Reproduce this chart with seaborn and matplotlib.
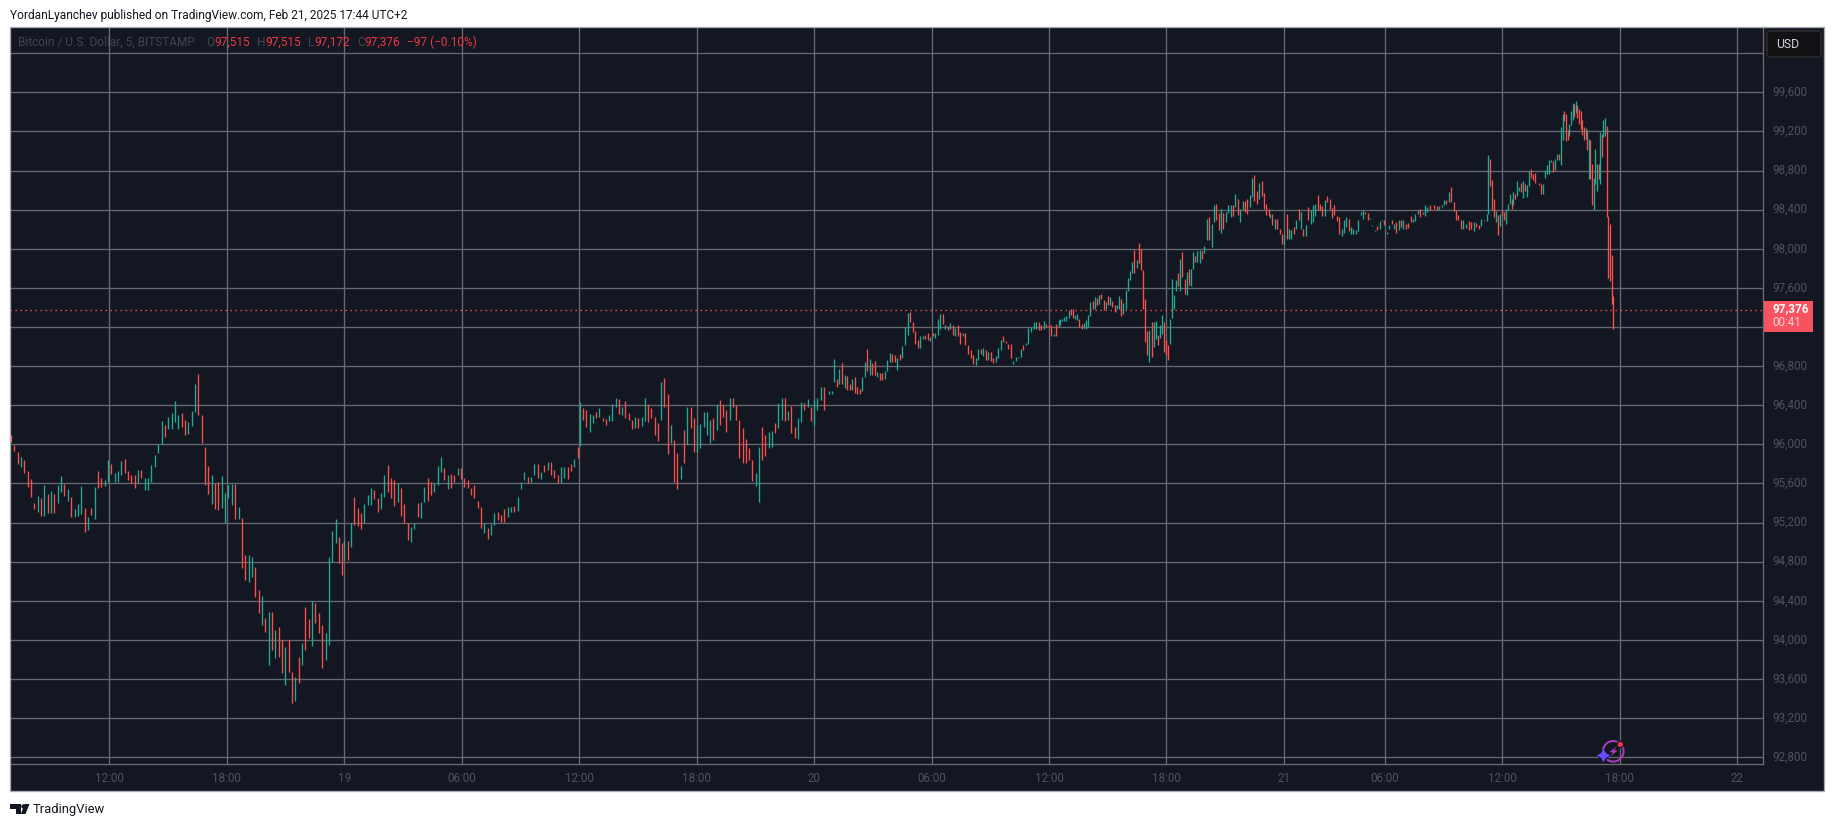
import numpy as np
import pandas as pd
import matplotlib
matplotlib.use("Agg")
import matplotlib.pyplot as plt
from matplotlib.patches import Rectangle, FancyBboxPatch, Circle, Arc, Polygon
import seaborn as sns

# (high, low, direction), one stretch of the chart per list
bars_a = [(96096,96028,'d'),(95994,95936,'d'),(95926,95796,'d'),(95875,95766,'u'),(95841,95711,'d'),(95728,95568,'d'),
 (95643,95466,'d'),(95404,95340,'d'),(95472,95312,'u'),(95455,95268,'d'),(95582,95271,'u'),(95490,95302,'d'),
 (95527,95302,'u'),(95490,95302,'d'),(95585,95397,'u'),(95677,95517,'u'),(95595,95472,'d'),(95544,95421,'u'),
 (95466,95261,'d'),(95340,95261,'u'),(95391,95268,'u'),(95575,95288,'u'),(95353,95108,'d'),(95254,95125,'u'),
 (95346,95278,'d'),(95568,95241,'u'),(95728,95551,'d'),(95653,95561,'d'),(95636,95575,'u'),(95841,95619,'u'),
 (95800,95698,'d'),(95711,95619,'u'),(95728,95619,'u'),(95830,95687,'u'),(95851,95704,'d'),(95728,95636,'d'),
 (95687,95609,'d'),(95687,95551,'d'),(95738,95609,'u'),(95738,95653,'d'),(95653,95534,'u'),(95653,95534,'u'),
 (95786,95616,'u'),(95892,95773,'u'),(96000,95909,'u'),(96240,96000,'u'),(96199,96073,'d'),(96284,96158,'u'),
 (96325,96158,'u'),(96444,96233,'u'),(96301,96158,'u'),(96318,96182,'d'),(96250,96097,'d'),(96233,96107,'u'),
 (96342,96192,'u'),(96618,96335,'u'),(96720,96301,'d'),(96301,96011,'d'),(95977,95585,'d'),(95779,95490,'d'),
 (95687,95391,'u'),(95602,95340,'d'),(95616,95329,'d'),(95677,95346,'u'),(95500,95193,'u'),(95585,95449,'u'),
 (95595,95380,'u'),(95595,95234,'d'),(95363,95234,'u'),(95244,94733,'d'),(94869,94613,'d'),(94869,94596,'u'),
 (94845,94647,'u'),(94750,94443,'d'),(94511,94272,'d'),(94449,94153,'u'),(94221,94085,'d'),(94289,93744,'u'),
 (94289,93897,'d'),(94102,93812,'u'),(94136,93829,'d'),(93999,93658,'d'),(93931,93539,'u'),(93999,93676,'d'),
 (93676,93351,'d'),(93624,93379,'u'),(93822,93556,'d'),(93965,93743,'u'),(94334,93897,'d'),(94211,94016,'d'),
 (94402,93938,'u'),(94374,94170,'d'),(94272,94067,'d'),(94153,93710,'d'),(94068,93795,'u'),(94852,93948,'u'),
 (95118,94801,'u'),(95237,94988,'u'),(95056,94784,'d'),(94988,94664,'d')]

bars_b = [(95021,94817,'u'),(95011,94817,'d'),(95192,94953,'u'),(95465,95175,'d'),(95345,95165,'d'),(95294,95134,'d'),
 (95390,95192,'u'),(95482,95379,'u'),(95550,95379,'u'),(95533,95441,'d'),(95448,95311,'d'),(95499,95335,'u'),
 (95686,95465,'u'),(95789,95516,'d'),(95652,95448,'d'),(95635,95369,'d'),(95601,95413,'u'),(95550,95267,'d'),
 (95390,95199,'d'),(95192,95021,'d'),(95158,95004,'u'),(95192,95130,'u'),(95396,95253,'d'),(95413,95250,'u'),
 (95567,95413,'u'),(95652,95424,'d'),(95618,95482,'d'),(95601,95509,'u'),(95778,95584,'u'),(95874,95720,'u'),
 (95754,95635,'d'),(95686,95540,'u'),(95697,95550,'d'),(95686,95618,'d'),(95754,95686,'u'),(95761,95645,'d'),
 (95652,95567,'d'),(95635,95550,'d'),(95550,95482,'d'),(95584,95448,'d'),(95420,95345,'d'),(95362,95141,'d'),
 (95192,95090,'u'),(95141,95032,'d'),(95182,95072,'u'),(95294,95175,'u'),(95311,95226,'d'),(95277,95209,'d'),
 (95335,95209,'d'),(95355,95253,'u'),(95355,95311,'u'),(95369,95311,'d'),(95458,95318,'u'),(95618,95540,'u'),
 (95720,95635,'u'),(95669,95608,'d'),(95669,95618,'u'),(95799,95686,'u'),(95799,95652,'d'),(95720,95645,'u'),
 (95789,95720,'d'),(95823,95737,'u'),(95823,95686,'d'),(95737,95652,'d'),(95686,95608,'d'),(95771,95601,'u'),
 (95764,95652,'u'),(95771,95645,'d'),(95799,95730,'d'),(95847,95771,'u'),(95976,95857,'d')]

bars_c = [(96430,95980,'u'),(96376,96250,'d'),(96352,96182,'d'),(96308,96130,'u'),(96301,96216,'u'),(96335,96267,'d'),
 (96376,96284,'u'),(96267,96240,'d'),(96257,96199,'d'),(96301,96240,'u'),(96410,96240,'u'),(96472,96386,'u'),
 (96465,96308,'d'),(96386,96301,'u'),(96444,96274,'d'),(96318,96250,'d'),(96250,96158,'d'),(96284,96165,'u'),
 (96267,96165,'d'),(96284,96192,'u'),(96472,96240,'u'),(96414,96233,'d'),(96369,96267,'d'),(96284,96096,'d'),
 (96216,96035,'d'),(96642,96250,'u'),(96676,96386,'d'),(96516,95899,'d'),(96199,96011,'u'),(96045,95619,'d'),
 (95909,95544,'d'),(95779,95646,'u'),(96148,95807,'d'),(96386,96001,'u'),(96386,96172,'d'),(96274,95919,'d'),
 (96199,95919,'u'),(96206,95960,'u'),(96335,96182,'u'),(96335,96096,'u'),(96250,96011,'u'),(96267,96045,'d'),
 (96410,96148,'u'),(96455,96199,'d'),(96403,96284,'d'),(96352,96131,'d'),(96472,96250,'u'),(96472,96386,'d'),
 (96403,96250,'d'),(96250,95865,'d'),(96165,95807,'d'),(96056,95807,'d'),(95960,95841,'d'),(95841,95626,'d'),
 (95704,95578,'u'),(95977,95415,'u'),(96182,95841,'d'),(96096,95885,'d'),(96131,95967,'u'),(96141,95977,'u'),
 (96216,96114,'d'),(96420,96165,'u'),(96472,96250,'u'),(96472,96240,'d'),(96342,96250,'u'),(96397,96114,'d'),
 (96182,96062,'d'),(96267,96056,'u'),(96438,96233,'u'),(96420,96352,'d'),(96461,96386,'u'),(96386,96240,'d'),
 (96455,96199,'u'),(96472,96352,'u'),(96591,96455,'u'),(96591,96352,'d')]

bars_d = [(96550,96510,'u'),(96550,96510,'u'),(96872,96637,'u'),(96667,96590,'d'),(96771,96617,'u'),(96835,96617,'d'),
 (96711,96577,'u'),(96694,96560,'d'),(96617,96560,'d'),(96667,96560,'u'),(96687,96527,'d'),(96584,96510,'d'),
 (96570,96510,'d'),(96687,96543,'u'),(96838,96684,'u'),(96972,96751,'d'),(96868,96711,'u'),(96828,96711,'d'),
 (96852,96711,'d'),(96744,96684,'u'),(96728,96660,'d'),(96728,96660,'d'),(96751,96671,'u'),(96862,96751,'u'),
 (96935,96845,'u'),(96921,96845,'d'),(96912,96845,'d'),(96885,96761,'u'),(96929,96862,'d'),(97006,96878,'u'),
 (97197,97012,'u'),(97347,97120,'u'),(97354,97247,'d'),(97247,97153,'d'),(97163,97029,'d'),(97063,96986,'d'),
 (97113,96986,'u'),(97113,97079,'u'),(97123,97079,'d'),(97140,97063,'d'),(97096,97053,'u'),(97136,97113,'d'),
 (97136,97086,'u'),(97280,97120,'u'),(97331,97180,'u'),(97337,97230,'d'),(97220,97180,'u'),(97207,97173,'d'),
 (97240,97180,'u'),(97223,97120,'d'),(97190,97113,'u'),(97220,97113,'d'),(97153,97022,'d'),(97140,97113,'u'),
 (97140,97019,'d'),(97019,96919,'d'),(96962,96878,'d'),(96912,96818,'d'),(96885,96811,'u'),(96972,96862,'u'),
 (96972,96919,'d'),(96986,96902,'u'),(96962,96862,'d'),(96945,96862,'u'),(96945,96852,'d'),(96885,96828,'d'),
 (96905,96845,'u'),(96986,96888,'u'),(97063,96969,'u'),(97103,97046,'d'),(97053,97039,'d'),(97029,96979,'d'),
 (97029,96885,'d'),(96852,96821,'u'),(96895,96852,'u'),(96895,96878,'u'),(96979,96895,'u'),(97012,96962,'d'),
 (97039,97019,'u'),(97190,97029,'u'),(97197,97146,'u'),(97247,97180,'u'),(97247,97180,'u'),(97247,97173,'d'),
 (97220,97170,'d'),(97264,97180,'u'),(97230,97197,'d'),(97220,97197,'d'),(97220,97106,'d'),(97130,97106,'u'),
 (97230,97113,'d'),(97274,97197,'u')]

bars_e1 = [(97279,97218,'u'),(97286,97259,'u'),(97303,97259,'u'),(97310,97259,'u'),(97371,97293,'u'),(97381,97320,'d'),
 (97381,97293,'d'),(97320,97286,'u'),(97330,97269,'u'),(97286,97201,'d'),(97235,97177,'d'),(97245,97190,'u'),
 (97269,97184,'u'),(97327,97201,'u'),(97456,97313,'u'),(97463,97388,'d'),(97507,97388,'u'),(97497,97422,'d'),
 (97524,97439,'u'),(97541,97484,'d'),(97480,97371,'d'),(97456,97381,'u'),(97514,97429,'d'),(97507,97429,'u'),
 (97463,97405,'d'),(97422,97354,'d'),(97429,97388,'u'),(97514,97381,'u'),(97490,97310,'d'),(97449,97337,'u'),
 (97576,97388,'u'),(97702,97566,'u'),(97770,97678,'u'),(97866,97757,'u'),(97985,97757,'d'),(97883,97804,'u'),
 (98057,97859,'d'),(98002,97780,'d')]

bars_e2 = [(97780,97381,'d'),(97490,97047,'d'),(97156,96911,'d'),(97167,96843,'u'),(97252,96894,'d'),(97252,96996,'u'),
 (97259,97074,'u'),(97115,97013,'d'),(97225,97088,'u'),(97320,97133,'u'),(97252,96945,'d'),(97064,96911,'d'),
 (97013,96860,'d'),(97279,97023,'u'),(97695,97293,'u'),(97524,97388,'u'),(97678,97566,'u'),(97757,97620,'d'),
 (97893,97566,'u'),(97968,97712,'d'),(97695,97541,'d'),(97763,97524,'u'),(97791,97627,'d'),(97791,97620,'u')]

bars_e3 = [(97968,97791,'u'),(97927,97866,'d'),(97975,97866,'u'),(97985,97859,'u'),(97975,97900,'d'),(98026,97961,'u'),
 (98309,98087,'u'),(98326,98087,'d'),(98258,98019,'u'),(98445,98275,'u'),(98455,98292,'d'),(98370,98190,'d'),
 (98411,98166,'u'),(98370,98207,'d'),(98377,98275,'u'),(98445,98370,'u'),(98452,98326,'u'),(98452,98336,'d'),
 (98565,98428,'u'),(98514,98350,'d'),(98411,98275,'u'),(98486,98394,'u'),(98486,98377,'d'),(98514,98353,'d'),
 (98548,98428,'u'),(98728,98531,'u'),(98759,98493,'d'),(98589,98456,'d'),(98677,98514,'u'),(98691,98541,'d'),
 (98575,98411,'d'),(98462,98350,'d'),(98411,98336,'d')]

bars_f = [(98359,98318,'u'),(98359,98240,'d'),(98308,98206,'u'),(98308,98206,'d'),(98199,98154,'d'),(98154,98045,'d'),
 (98154,98052,'u'),(98352,98103,'d'),(98206,98103,'u'),(98189,98103,'u'),(98223,98154,'d'),(98291,98206,'u'),
 (98410,98291,'d'),(98376,98206,'u'),(98206,98127,'d'),(98240,98127,'u'),(98427,98291,'d'),(98393,98250,'u'),
 (98444,98274,'u'),(98461,98332,'u'),(98547,98400,'d'),(98461,98393,'d'),(98434,98332,'d'),(98502,98332,'u'),
 (98536,98478,'d'),(98512,98410,'d'),(98420,98318,'d'),(98444,98342,'d'),(98332,98284,'d'),(98325,98154,'d'),
 (98206,98127,'u'),(98291,98161,'u'),(98325,98223,'u'),(98308,98178,'d'),(98223,98148,'u'),(98206,98154,'u'),
 (98189,98154,'u'),(98291,98178,'u'),(98376,98342,'u'),(98393,98301,'u'),(98376,98359,'d'),(98366,98298,'d'),
 (98311,98301,'u'),(98240,98229,'u'),(98189,98178,'u'),(98229,98189,'d'),(98284,98206,'u'),(98291,98281,'u'),
 (98291,98240,'d'),(98168,98148,'u'),(98240,98206,'u'),(98298,98257,'d'),(98257,98206,'u'),(98274,98161,'d'),
 (98298,98189,'u'),(98298,98223,'d'),(98291,98206,'u'),(98257,98206,'d'),(98264,98212,'d'),(98332,98274,'d'),
 (98308,98274,'u'),(98352,98281,'u'),(98393,98352,'u'),(98410,98325,'d'),(98376,98359,'d'),(98444,98332,'u'),
 (98427,98376,'u'),(98444,98400,'d'),(98400,98393,'u'),(98444,98410,'d'),(98434,98400,'d'),(98434,98400,'u'),
 (98444,98427,'u'),(98495,98444,'u'),(98495,98454,'d'),(98581,98478,'u'),(98632,98478,'d'),(98478,98386,'d')]

bars_g = [(98393,98291,'d'),(98342,98291,'d'),(98291,98199,'d'),(98291,98206,'u'),(98257,98216,'u'),(98281,98189,'d'),
 (98274,98206,'d'),(98274,98178,'u'),(98264,98223,'d'),(98240,98199,'d'),(98308,98233,'u'),(98298,98281,'d'),
 (98359,98281,'u')]

bars_h = [(98956,98359,'u'),(98915,98639,'d'),(98700,98393,'d'),(98506,98325,'d'),(98386,98274,'u'),(98342,98137,'d'),
 (98359,98229,'u'),(98393,98342,'d'),(98376,98291,'d'),(98410,98257,'u'),(98455,98400,'u'),(98557,98455,'u'),
 (98513,98410,'d'),(98581,98444,'u'),(98564,98506,'d'),(98693,98536,'u'),(98632,98591,'u'),(98673,98581,'d'),
 (98690,98519,'u'),(98666,98588,'d'),(98649,98530,'u'),(98792,98639,'u'),(98819,98727,'d'),(98761,98700,'d'),
 (98778,98673,'d'),(98676,98669,'u'),(98676,98649,'d'),(98666,98564,'d'),(98659,98557,'u'),(98809,98724,'u'),
 (98853,98768,'u'),(98911,98768,'u'),(98911,98888,'u'),(98894,98785,'d'),(98922,98809,'u'),(98973,98905,'u'),
 (98966,98905,'d')]

bars_i = [(99246,98854,'u'),(99375,99109,'u'),(99406,99304,'d'),(99375,99102,'d'),(99212,99116,'d'),(99280,99150,'u'),
 (99410,99263,'u'),(99495,99314,'u'),(99484,99348,'d'),(99508,99389,'u'),(99467,99338,'d'),(99433,99280,'d'),
 (99406,99229,'d'),(99314,99160,'d'),(99246,99109,'d'),(99239,99126,'u'),(99212,99007,'d'),(99126,98717,'u'),
 (99109,98717,'d'),(98871,98444,'d'),(98727,98400,'u'),(99024,98659,'u'),(98871,98591,'u'),(98871,98717,'d'),
 (99195,98659,'u'),(99177,98939,'d'),(99314,99143,'u'),(99341,99150,'u'),(99253,98325,'d'),(98332,97698,'d'),
 (98257,97670,'d'),(97933,97438,'d'),(97513,97179,'d')]

# first and last 5-minute slot of each stretch
stretches = [(bars_a, 0.7, 203.8), (bars_b, 205, 348.1), (bars_c, 349.5, 499), (bars_d, 502.4, 643),
             (bars_e1, 643.6, 693.4), (bars_e2, 694.8, 723.9), (bars_e3, 725, 771.7), (bars_f, 772.5, 885),
             (bars_g, 886.3, 905.3), (bars_h, 905.9, 949.8), (bars_i, 951, 982.9)]

price_ticks = list(range(92800, 100400, 400))
# 97,200 sits under the last price label and 100,000 under the USD button, neither shows a label
price_labels = ['' if p in (97200, 100000) else f'{p:,}' for p in price_ticks]
time_slots = [61, 133, 205, 277, 349, 421, 493, 565, 637, 709, 781, 843, 915, 987, 1059]
time_labels = ['12:00', '18:00', '19', '06:00', '12:00', '18:00', '20', '06:00', '12:00', '18:00', '21', '06:00', '12:00', '18:00', '22']
last_close = 97376

BG = '#131722'
GRID = '#666872'
UP = '#22ab94'
DOWN = '#fb4f4c'
DIM = '#50535e'
LEGEND_DIM = '#434651'

# long table: two rows per bar, so each bar is one vertical line
rows = []
bar_id = 0
for bars, first, last in stretches:
    for slot, (high, low, side) in zip(np.linspace(first, last, len(bars)), bars):
        rows.append((bar_id, slot, high, side))
        rows.append((bar_id, slot, low, side))
        bar_id += 1
df = pd.DataFrame(rows, columns=['bar', 'slot', 'price', 'side'])

sns.set_style('dark')
plt.rcParams['font.family'] = ['Roboto', 'DejaVu Sans']

W, H = 1835, 827
fig = plt.figure(figsize=(W / 100, H / 100), dpi=100, facecolor='white')


def px_axes(z):
    a = fig.add_axes([0, 0, 1, 1], zorder=z)
    a.set_xlim(0, W)
    a.set_ylim(H, 0)
    a.axis('off')
    return a


under = px_axes(0)
over = px_axes(5)
under.add_patch(Rectangle((10, 27), 1814, 764, fc=BG, ec='none'))

# main pane
L, R, T, B = 10, 1763, 27, 764
ax = fig.add_axes([L / W, 1 - B / H, (R - L) / W, (B - T) / H], zorder=2)
ax.patch.set_alpha(0)
ax.set_axisbelow(True)
ax.grid(True, color=GRID, lw=0.95)

sns.lineplot(data=df, x='slot', y='price', hue='side', units='bar', estimator=None, sort=False,
             palette={'u': UP, 'd': DOWN}, linewidth=0.95, solid_capstyle='butt', legend=False, ax=ax)
ax.axhline(last_close, color=DOWN, lw=1, ls=(0, (1, 2.6)))

ax.set_xlim(0.13, 1074.7)
ax.set_ylim(92731, 100268)
ax.set_xlabel('')
ax.set_ylabel('')
ax.yaxis.tick_right()
ax.set_yticks(price_ticks)
ax.set_yticklabels(price_labels, va='center')
ax.set_xticks(time_slots)
ax.set_xticklabels(time_labels)
ax.tick_params(axis='y', length=0, pad=6.5, labelsize=8.4, labelcolor=DIM)
ax.tick_params(axis='x', length=0, pad=6, labelsize=8.4, labelcolor=DIM)
for side in ['left', 'top']:
    ax.spines[side].set_visible(False)
for side in ['right', 'bottom']:
    ax.spines[side].set_color('#6a6c76')
    ax.spines[side].set_linewidth(0.95)

# outer frame
over.add_patch(Rectangle((10, 27), 1814, 764, fc='none', ec='#a9abb3', lw=0.95))

# header and legend strip
over.text(10, 15, 'YordanLyanchev published on TradingView.com, Feb 21, 2025 17:44 UTC+2', fontsize=8.55,
          color='#131722', va='center')
over.text(18, 42, 'Bitcoin / U.S. Dollar, 5, BITSTAMP', fontsize=8.6, color=LEGEND_DIM, va='center')
for x, s, c in [(206, 'O', LEGEND_DIM), (214, '97,515', '#f23645'), (257, 'H', LEGEND_DIM), (265, '97,515', '#f23645'),
                (308, 'L', LEGEND_DIM), (314, '97,172', '#f23645'), (357, 'C', LEGEND_DIM), (364, '97,376', '#f23645'),
                (407, '\u221297 (\u22120.10%)', '#f23645')]:
    over.text(x, 42, s, fontsize=8.6, color=c, va='center')

# USD button
over.add_patch(FancyBboxPatch((1769, 33), 50, 22, boxstyle='round,pad=2,rounding_size=4', fc='#111113', ec='#2e2e31', lw=1))
over.text(1776, 44.5, 'USD', fontsize=8.8, color='#d1d4dc', va='center')

# last price label
over.add_patch(Rectangle((1764, 301), 49, 31, fc='#f7525f', ec='none'))
over.text(1772, 309, f'{last_close:,}', fontsize=8.4, fontweight='bold', color='white', va='center')
over.text(1772, 323, '00:41', fontsize=8.4, color='#fbd0d3', va='center')

# footer logo
over.add_patch(Polygon([(10, 804), (21, 804), (21, 814), (16, 814), (16, 808.5), (10, 808.5)], fc='#131722', ec='none'))
over.add_patch(Circle((23.6, 806.5), 2.3, fc='#131722', ec='none'))
over.add_patch(Polygon([(29.5, 804), (25.5, 814), (20.8, 814), (24.8, 804)], fc='#131722', ec='none'))
over.text(33, 809.5, 'TradingView', fontsize=9.4, color='#131722', va='center')

# lightning badge
over.add_patch(Arc((1613.3, 751.3), 20.6, 20.6, theta1=0, theta2=360, ec='#a83bb8', lw=1.5))
over.add_patch(Polygon([(1617.5, 745.5), (1609.5, 752), (1613, 752.5), (1610, 757), (1617.5, 750.5), (1614, 750)],
                       fc='#a83bb8', ec='none'))
over.add_patch(Circle((1620.3, 744.5), 3.8, fc=BG, ec='none'))
over.add_patch(Circle((1620.3, 744.5), 2.6, fc='#f23645', ec='none'))
over.add_patch(Circle((1603.3, 755.3), 5.5, fc=BG, ec='none'))
over.scatter([1603.3], [755.3], marker=(4, 1, 0), s=95, c='#6a4cff', linewidths=0, zorder=4)

fig.savefig('out.png', dpi=100, facecolor='white')
